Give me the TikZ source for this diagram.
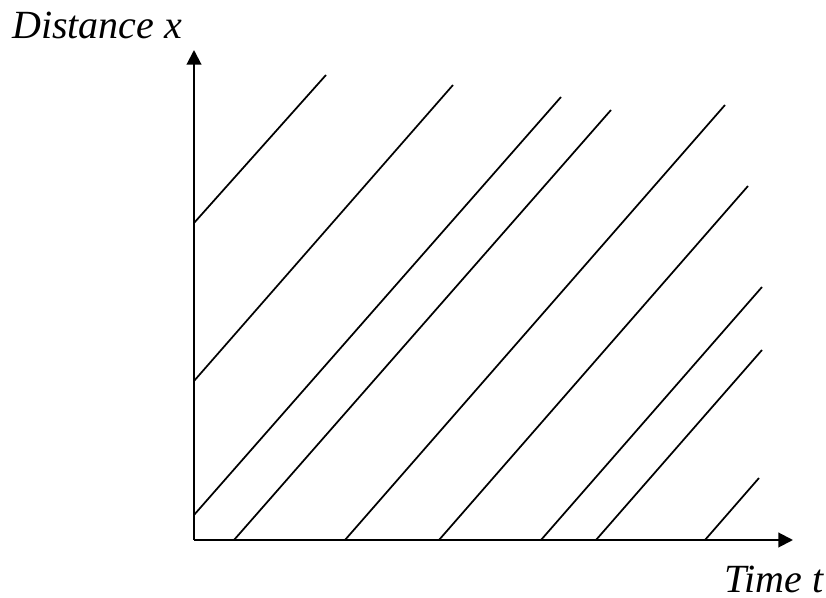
\documentclass[tikz,border=0pt]{standalone}
\usepackage{fontspec}
\setmainfont{Liberation Serif}
\usetikzlibrary{arrows.meta}
\begin{document}
\begin{tikzpicture}[x=0.75pt,y=-0.75pt,
  axis/.style={line width=1.5pt,-{Triangle[length=11pt,width=11pt]}},
  ray/.style={line width=1.3pt},
  lbl/.style={font=\fontsize{30}{34}\selectfont\itshape,inner sep=0pt,anchor=base west}]
\useasboundingbox (0,0) rectangle (826,598);
\coordinate (O) at (194,540);
\coordinate (Y) at (194,50);
\coordinate (X) at (793,540);
\draw[axis] (O) -- (Y);
\draw[axis] (O) -- (X);
\node[lbl] (ylabel) at (12,39) {Distance x};
\node[lbl] (xlabel) at (724,593) {Time t};
\draw[ray] (194,223) -- (326,75);
\draw[ray] (194,381) -- (453,85);
\draw[ray] (194,515) -- (561,97);
\draw[ray] (234,540) -- (611,110);
\draw[ray] (345,540) -- (725,105);
\draw[ray] (439,540) -- (748,186);
\draw[ray] (541,540) -- (762,287);
\draw[ray] (596,540) -- (762,350);
\draw[ray] (705,540) -- (759,478);
\end{tikzpicture}
\end{document}
